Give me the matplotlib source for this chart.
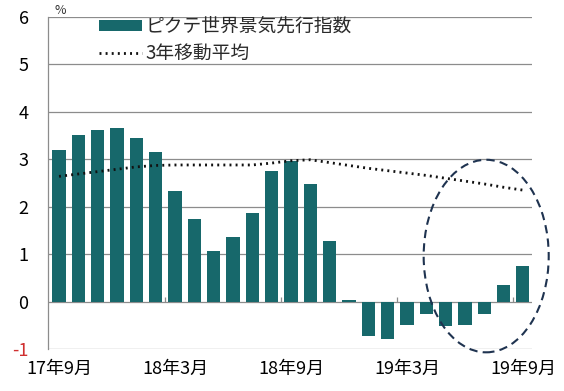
import matplotlib
matplotlib.use("Agg")
import matplotlib.pyplot as plt
from matplotlib.patches import Ellipse
import numpy as np

plt.rcParams['font.family'] = ['Noto Sans CJK JP', 'DejaVu Sans']

# データ（2017年9月〜2019年9月、月次）
months = ['17年9月', '17年10月', '17年11月', '17年12月', '18年1月', '18年2月',
          '18年3月', '18年4月', '18年5月', '18年6月', '18年7月', '18年8月',
          '18年9月', '18年10月', '18年11月', '18年12月', '19年1月', '19年2月',
          '19年3月', '19年4月', '19年5月', '19年6月', '19年7月', '19年8月', '19年9月']
index_values = [3.20, 3.52, 3.62, 3.67, 3.44, 3.15, 2.34, 1.75, 1.07, 1.36, 1.87, 2.75,
                2.97, 2.48, 1.28, 0.03, -0.72, -0.78, -0.49, -0.27, -0.52, -0.49, -0.27,
                0.34, 0.76]
moving_avg = [2.64, 2.69, 2.74, 2.79, 2.84, 2.87, 2.88, 2.88, 2.88, 2.88, 2.88, 2.92,
              2.97, 2.99, 2.93, 2.87, 2.81, 2.76, 2.71, 2.66, 2.60, 2.54, 2.48, 2.41, 2.35]
label_months = ['17年9月', '18年3月', '18年9月', '19年3月', '19年9月']
y_ticks = [-1, 0, 1, 2, 3, 4, 5, 6]

bar_color = '#17686B'
grid_color = '#8c8c8c'

fig = plt.figure(figsize=(5.64, 3.91), dpi=100)
ax = fig.add_axes([48 / 564, 1 - 349 / 391, (532 - 48) / 564, (349 - 17) / 391])

x = np.arange(len(months))
bars = ax.bar(x, index_values, width=0.68, color=bar_color, zorder=3,
              label='ピクテ世界景気先行指数')
line, = ax.plot(x, moving_avg, linestyle=(0, (0.7, 1.5)), linewidth=2.0,
                color='#111111', zorder=4, label='3年移動平均')

# 注目部分の楕円
ax.add_patch(Ellipse((22.1, 0.96), 6.47, 4.06, fill=False, edgecolor='#1f3350',
                     linestyle=(0, (4, 2.5)), linewidth=1.5, zorder=5, clip_on=False))

ax.set_xlim(-0.57, len(months) - 0.53)
ax.set_ylim(-1, 6)

# グリッド
for yv in y_ticks:
    ax.axhline(yv, color=grid_color, linewidth=0.9, zorder=1)

for s in ['top', 'right', 'bottom']:
    ax.spines[s].set_visible(False)
ax.spines['left'].set_color(grid_color)
ax.spines['left'].set_linewidth(0.9)

ax.set_yticks(y_ticks)
ax.set_yticklabels([str(v) for v in y_ticks], fontsize=13)
ax.get_yticklabels()[0].set_color('#d03030')
ax.tick_params(axis='y', length=0, pad=14)

label_pos = [months.index(m) for m in label_months]
ax.set_xticks(label_pos)
ax.set_xticklabels(label_months, fontsize=13)
ax.tick_params(axis='x', length=0, pad=8)

# ゼロ軸上の目盛
tick_marks = [p - 0.5 for p in label_pos[1:]]
ax.vlines(tick_marks, 0, 0.1, color=grid_color, linewidth=0.9, zorder=2)

ax.text(60 / 564, 1 - 11 / 391, '%', transform=fig.transFigure, fontsize=9,
        ha='center', va='center', color='#333333')

leg = ax.legend(handles=[bars, line], loc='upper left',
                bbox_to_anchor=(99 / 564, 1 - 16 / 391),
                bbox_transform=fig.transFigure, frameon=False, fontsize=13.5,
                handlelength=2.3, handleheight=0.5, handletextpad=0.2,
                labelspacing=0.3, borderpad=0, borderaxespad=0)
for t in leg.get_texts():
    t.set_color('#2a2a2a')

fig.savefig('out.png', dpi=100)
